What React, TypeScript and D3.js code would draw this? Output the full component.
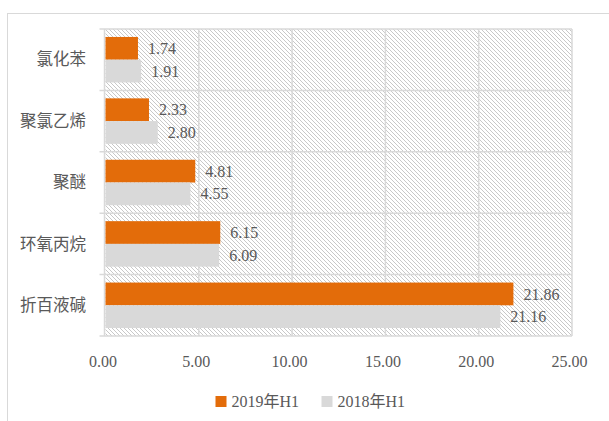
import React, { useEffect, useRef } from "react";
import * as d3 from "d3";

const categories = ["氯化苯", "聚氯乙烯", "聚醚", "环氧丙烷", "折百液碱"];
const seriesNames = ["2019年H1", "2018年H1"];
const values2019 = [1.74, 2.33, 4.81, 6.15, 21.86];
const values2018 = [1.91, 2.8, 4.55, 6.09, 21.16];
const xTicks = [0, 5, 10, 15, 20, 25];
const colors = ["#E36C0A", "#D9D9D9"];

const W = 609;
const H = 421;

export default function App() {
    const ref = useRef<SVGSVGElement>(null);

    useEffect(() => {
        const svg = d3.select(ref.current);
        svg.selectAll("*").remove();

        const left = 105.5, right = 572, top = 29, bottom = 336;
        const textColor = "#595959";
        const gridColor = "#D9D9D9";
        const serif = "Liberation Serif";

        // hatch pattern for the plot area
        const s = 4;
        const defs = svg.append("defs");
        const pat = defs.append("pattern")
            .attr("id", "hatch")
            .attr("patternUnits", "userSpaceOnUse")
            .attr("width", s)
            .attr("height", s);
        pat.append("path")
            .attr("d", `M0,0 L${s},${s} M${-1},${s - 1} L1,${s + 1} M${s - 1},-1 L${s + 1},1`)
            .attr("stroke", "#C8C8C8")
            .attr("stroke-width", 1);

        // outer chart border
        svg.append("rect")
            .attr("x", 7.5).attr("y", 13.5)
            .attr("width", 640).attr("height", 440)
            .attr("fill", "white")
            .attr("stroke", gridColor);

        const x = d3.scaleLinear().domain([0, 25]).range([left, right]);
        const y = d3.scaleBand().domain(categories).range([top, bottom]).padding(0);
        const ySub = d3.scaleBand()
            .domain(seriesNames)
            .range([0, y.bandwidth()])
            .paddingInner(0)
            .paddingOuter(0.35);

        svg.append("rect")
            .attr("x", left).attr("y", top)
            .attr("width", right - left).attr("height", bottom - top)
            .attr("fill", "url(#hatch)");

        const g = svg.append("g");

        // vertical gridlines
        g.selectAll(".vgrid")
            .data(xTicks.slice(1))
            .join("line")
            .attr("x1", d => x(d)).attr("x2", d => x(d))
            .attr("y1", top).attr("y2", bottom)
            .attr("stroke", gridColor)
            .attr("stroke-width", 1.5);

        // category boundaries (extend left as tick marks)
        const bounds = categories.map(c => y(c) as number).concat([bottom]);
        g.selectAll(".hgrid")
            .data(bounds)
            .join("line")
            .attr("x1", left - 6).attr("x2", right)
            .attr("y1", d => d).attr("y2", d => d)
            .attr("stroke", gridColor)
            .attr("stroke-width", 1.5);

        g.append("line")
            .attr("x1", left - 1).attr("x2", left - 1)
            .attr("y1", top).attr("y2", bottom)
            .attr("stroke", gridColor)
            .attr("stroke-width", 1.5);

        const series = [values2019, values2018];
        series.forEach((vals, si) => {
            const name = seriesNames[si];
            g.selectAll(".bar" + si)
                .data(vals)
                .join("rect")
                .attr("x", x(0))
                .attr("y", (d, i) => (y(categories[i]) as number) + (ySub(name) as number))
                .attr("width", d => x(d) - x(0))
                .attr("height", ySub.bandwidth())
                .attr("fill", colors[si]);

            g.selectAll(".lbl" + si)
                .data(vals)
                .join("text")
                .attr("x", d => x(d) + 10)
                .attr("y", (d, i) => (y(categories[i]) as number) + (ySub(name) as number) + ySub.bandwidth() / 2)
                .attr("dy", "0.35em")
                .attr("font-family", serif)
                .attr("font-size", 16)
                .attr("fill", textColor)
                .text(d => d.toFixed(2));
        });

        // category labels
        g.selectAll(".cat")
            .data(categories)
            .join("text")
            .attr("x", 86)
            .attr("y", d => (y(d) as number) + y.bandwidth() / 2)
            .attr("dy", "0.35em")
            .attr("text-anchor", "end")
            .attr("font-family", "Noto Sans CJK SC")
            .attr("font-size", 16.5)
            .attr("fill", textColor)
            .text(d => d);

        // x tick labels
        g.selectAll(".xt")
            .data(xTicks)
            .join("text")
            .attr("x", d => x(d) - 2.5)
            .attr("y", 361)
            .attr("dy", "0.35em")
            .attr("text-anchor", "middle")
            .attr("font-family", serif)
            .attr("font-size", 16)
            .attr("fill", textColor)
            .text(d => d.toFixed(2));

        // legend
        const legendX = [215.5, 321.5];
        const lg = svg.append("g");
        seriesNames.forEach((name, i) => {
            lg.append("rect")
                .attr("x", legendX[i]).attr("y", 396)
                .attr("width", 11).attr("height", 11)
                .attr("fill", colors[i]);
            lg.append("text")
                .attr("x", legendX[i] + 16)
                .attr("y", 401)
                .attr("dy", "0.35em")
                .attr("font-family", serif + ", Noto Sans CJK SC")
                .attr("font-size", 16)
                .attr("fill", textColor)
                .text(name);
        });
    }, []);

    return (
        <svg
            ref={ref}
            width={W}
            height={H}
            style={{ position: "absolute", left: 0, top: 0, background: "white" }}
        />
    );
}
